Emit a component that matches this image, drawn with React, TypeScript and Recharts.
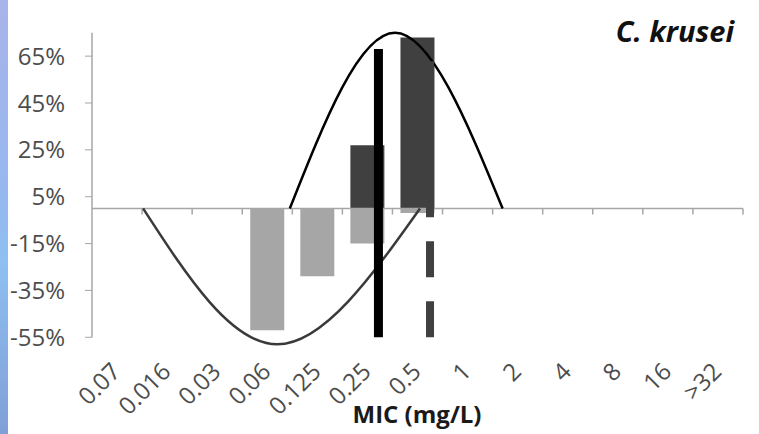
import React from 'react';
import { ComposedChart, Bar, Line, XAxis, YAxis, ReferenceLine } from 'recharts';

// MIC categories along the bottom
const categories = ['0.07', '0.016', '0.03', '0.06', '0.125', '0.25', '0.5', '1', '2', '4', '8', '16', '>32'];
// positive (dark) and negative (light) bars, in %
const upBars = [null, null, null, null, null, 27, 73, null, null, null, null, null, null];
const downBars = [null, null, null, -52, -29, -15, -2, null, null, null, null, null, null];

// smoothed curves, x in category units (0 = y axis, 13 = right end)
const upCurveX = [3.95, 6.05, 8.2];
const upCurveY = [0, 75, 0];
const downCurveX = [1.02, 3.7, 6.55];
const downCurveY = [0, -58, 0];

// vertical marker lines
const solidMarker = { x: 5.72, from: -55, to: 68 };
const dashedMarker = { x: 6.75, from: -55, to: 72 };

const yTicks = [-55, -35, -15, 5, 25, 45, 65];
const boundaries = [1, 2, 3, 4, 5, 6, 7, 8, 9, 10, 11, 12, 13];

const barData = categories.map((name, i) => ({ name, up: upBars[i], down: downBars[i] }));
const upCurve = upCurveX.map((x, i) => ({ x, y: upCurveY[i] }));
const downCurve = downCurveX.map((x, i) => ({ x, y: downCurveY[i] }));

const AXIS = '#a6a6a6';
const TEXT = '#4d4d4d';
const FONT = '"Open Sans", sans-serif';

const XTick = (props: any) => {
  const { x, y, payload } = props;
  const px = x + 5;
  const py = y + 24;
  return (
    <text
      x={px}
      y={py}
      textAnchor="end"
      fontSize={24}
      fontFamily={FONT}
      fill={TEXT}
      transform={`rotate(-45, ${px}, ${py})`}
    >
      {payload.value}
    </text>
  );
};

export default function App() {
  return (
    <div style={{ position: 'absolute', left: 0, top: 0, width: 759, height: 434, background: '#fff', overflow: 'hidden' }}>
      <div
        style={{
          position: 'absolute', left: 0, top: 0, width: 8, height: 434,
          background: 'linear-gradient(180deg, #a9b4ea 0%, #95b8ef 45%, #8fc0f2 60%, #7f9fd8 100%)',
        }}
      />
      <ComposedChart
        width={759}
        height={434}
        data={barData}
        stackOffset="sign"
        margin={{ top: 21, right: 16, bottom: 0, left: 0 }}
      >
        <XAxis
          xAxisId="cat"
          dataKey="name"
          type="category"
          interval={0}
          axisLine={false}
          tickLine={false}
          tickSize={0}
          tickMargin={0}
          height={85}
          tick={<XTick />}
        />
        <XAxis xAxisId="num" dataKey="x" type="number" domain={[0, 13]} hide height={0} allowDataOverflow />
        <YAxis
          domain={[-60, 80]}
          ticks={yTicks}
          interval={0}
          width={92}
          axisLine={false}
          tickLine={{ stroke: AXIS }}
          tickSize={7}
          tickMargin={20}
          tickFormatter={(v: number) => `${v}%`}
          tick={{ fontSize: 24, fontFamily: FONT, fill: TEXT }}
        />

        {/* axes drawn by hand so the x axis sits on zero */}
        <ReferenceLine xAxisId="num" segment={[{ x: 0, y: -55 }, { x: 0, y: 75 }]} stroke={AXIS} strokeWidth={1.5} />
        <ReferenceLine xAxisId="num" segment={[{ x: 0, y: 0 }, { x: 13, y: 0 }]} stroke={AXIS} strokeWidth={1.5} />
        {boundaries.map(b => (
          <ReferenceLine key={b} xAxisId="num" segment={[{ x: b, y: 0 }, { x: b, y: -2.6 }]} stroke={AXIS} strokeWidth={1.5} />
        ))}

        <Bar xAxisId="cat" dataKey="up" stackId="a" fill="#404040" barSize={34} isAnimationActive={false} />
        <Bar xAxisId="cat" dataKey="down" stackId="a" fill="#a6a6a6" barSize={34} isAnimationActive={false} />

        <Line xAxisId="num" data={upCurve} dataKey="y" type="natural" stroke="#000" strokeWidth={2.5} dot={false} isAnimationActive={false} />
        <Line xAxisId="num" data={downCurve} dataKey="y" type="natural" stroke="#3a3a3a" strokeWidth={2.5} dot={false} isAnimationActive={false} />

        <ReferenceLine
          xAxisId="num"
          segment={[{ x: solidMarker.x, y: solidMarker.from }, { x: solidMarker.x, y: solidMarker.to }]}
          stroke="#000"
          strokeWidth={9}
        />
        <ReferenceLine
          xAxisId="num"
          segment={[{ x: dashedMarker.x, y: dashedMarker.from }, { x: dashedMarker.x, y: dashedMarker.to }]}
          stroke="#404040"
          strokeWidth={8}
          strokeDasharray="36 24"
        />
      </ComposedChart>

      <div
        style={{
          position: 'absolute', left: 590, top: 13, width: 144, textAlign: 'right',
          fontFamily: FONT, fontWeight: 700, fontStyle: 'italic', fontSize: 29, color: '#111', lineHeight: '36px',
        }}
      >
        C. krusei
      </div>
      <div
        style={{
          position: 'absolute', left: 317, top: 398, width: 200, textAlign: 'center',
          fontFamily: FONT, fontWeight: 700, fontSize: 24, color: '#1a1a1a', lineHeight: '32px',
        }}
      >
        MIC (mg/L)
      </div>
    </div>
  );
}
